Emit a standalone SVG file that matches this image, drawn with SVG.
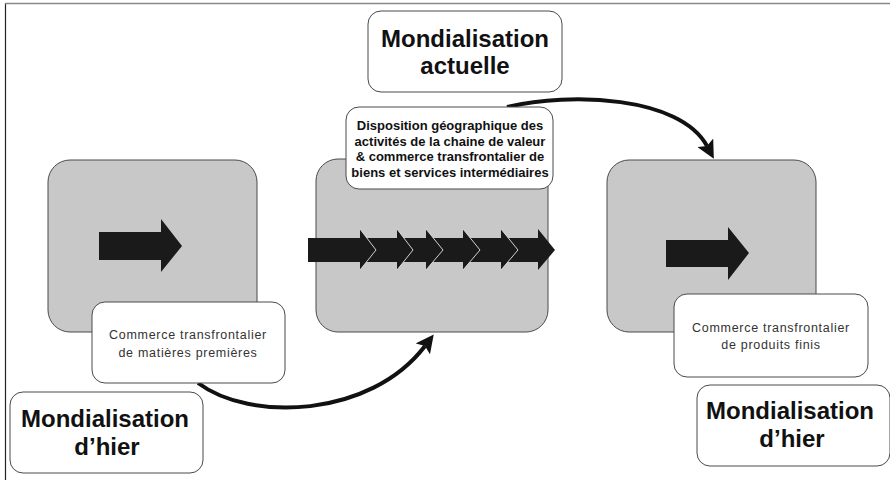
<svg xmlns="http://www.w3.org/2000/svg" width="890" height="480" viewBox="0 0 890 480">
<defs>
<style>
.gray{fill:#c8c8c8;stroke:#4a4a4a;stroke-width:1}
.white{fill:#ffffff;stroke:#4a4a4a;stroke-width:1}
.big{font-family:"Liberation Sans",Arial,sans-serif;font-weight:bold;font-size:24px;fill:#111;text-anchor:middle}
.mid{font-family:"Liberation Sans",Arial,sans-serif;font-weight:bold;font-size:13px;fill:#111;text-anchor:middle}
.small{font-family:"Liberation Sans",Arial,sans-serif;font-size:12.5px;letter-spacing:0.7px;fill:#333;text-anchor:middle}
.blk{fill:#1a1a1a}
.edge{fill:none;stroke:#e6e6e6;stroke-width:0.9}
.curve{fill:none;stroke:#111;stroke-width:4}
</style>
<marker id="ah" viewBox="0 0 10 10" refX="2" refY="5" markerWidth="4.5" markerHeight="4.5" orient="auto" markerUnits="strokeWidth">
<path d="M0,0 L10,5 L0,10 L2,5 z" fill="#111"/>
</marker>
</defs>
<rect width="890" height="480" fill="#ffffff"/>
<line x1="5.5" y1="3" x2="5.5" y2="480" stroke="#222" stroke-width="1.2"/>
<line x1="5" y1="3.5" x2="890" y2="3.5" stroke="#888" stroke-width="1.5"/>

<g id="box-left">
<rect class="gray" x="48" y="160" width="209" height="172" rx="22"/>
<polygon class="blk" points="99,232 161,232 161,219 182,246 161,272 161,260 99,260"/>
</g>
<g id="box-middle">
<rect class="gray" x="316" y="159" width="232" height="173" rx="22"/>
<rect class="blk" x="308" y="238" width="232" height="24"/>
<polygon class="blk" points="538,229 555,250 538,270"/>
<polygon class="blk" points="501,229 518,250 501,270"/>
<polygon class="blk" points="463,229 480,250 463,270"/>
<polygon class="blk" points="426,229 443,250 426,270"/>
<polygon class="blk" points="397,229 413,250 397,270"/>
<polygon class="blk" points="360,229 376,250 360,270"/>
<polyline class="edge" points="360,229 376,250 360,270"/>
<polyline class="edge" points="397,229 413,250 397,270"/>
<polyline class="edge" points="426,229 443,250 426,270"/>
<polyline class="edge" points="463,229 480,250 463,270"/>
<polyline class="edge" points="501,229 518,250 501,270"/>
</g>
<g id="box-right">
<rect class="gray" x="607" y="160" width="209" height="172" rx="22"/>
<polygon class="blk" points="666,240 728,240 728,227 749,253 728,280 728,267 666,267"/>
</g>

<g id="connectors">
<path class="curve" d="M198,383 C250,422 370,418 425,346" marker-end="url(#ah)"/>
<path class="curve" d="M507,107 C570,92 680,96 707,146" marker-end="url(#ah)"/>
</g>

<g id="label-actuelle">
<rect class="white" x="368" y="11" width="194" height="81" rx="13"/>
<text class="big" x="465" y="47">Mondialisation</text>
<text class="big" x="465" y="74">actuelle</text>
</g>
<g id="label-disposition">
<rect class="white" x="346" y="107" width="207" height="82" rx="13"/>
<text class="mid" x="450" y="130">Disposition géographique des</text>
<text class="mid" x="450" y="145.5">activités de la chaine de valeur</text>
<text class="mid" x="450" y="161">&amp; commerce transfrontalier de</text>
<text class="mid" x="450" y="176.5">biens et services intermédiaires</text>
</g>
<g id="label-matieres">
<rect class="white" x="92" y="302" width="193" height="81" rx="13"/>
<text class="small" x="188" y="339">Commerce transfrontalier</text>
<text class="small" x="188" y="357">de matières premières</text>
</g>
<g id="label-produits">
<rect class="white" x="674" y="294" width="194" height="83" rx="13"/>
<text class="small" x="771" y="332">Commerce transfrontalier</text>
<text class="small" x="771" y="349">de produits finis</text>
</g>
<g id="label-hier-left">
<rect class="white" x="10" y="392" width="193" height="81" rx="13"/>
<text class="big" x="105" y="427">Mondialisation</text>
<text class="big" x="107" y="455">d’hier</text>
</g>
<g id="label-hier-right">
<rect class="white" x="697" y="385" width="193" height="81" rx="13"/>
<text class="big" x="790" y="419">Mondialisation</text>
<text class="big" x="792" y="447">d’hier</text>
</g>
</svg>
